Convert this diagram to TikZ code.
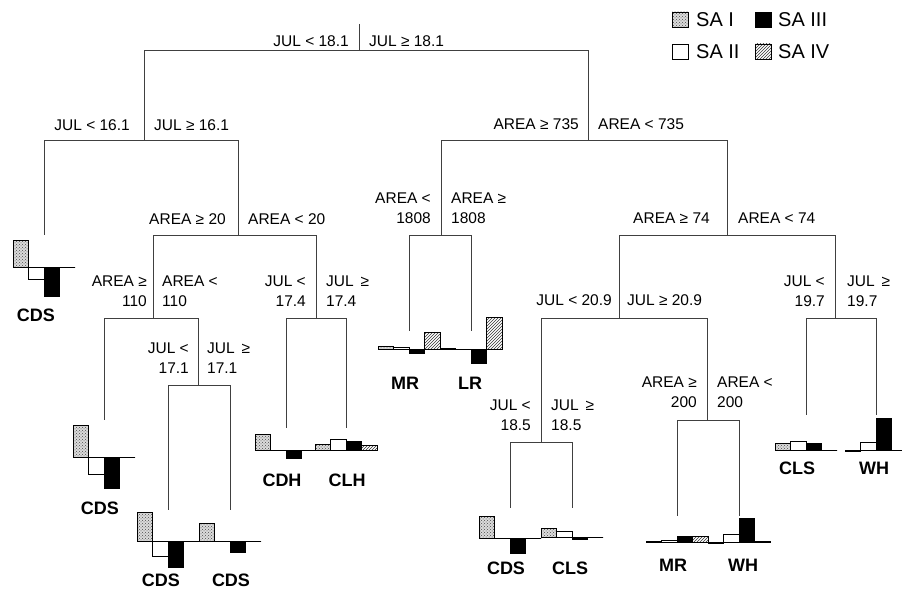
\documentclass[tikz,border=0pt]{standalone}
\usepackage{fontspec}
\setmainfont{Liberation Sans}
\usetikzlibrary{patterns}
% #1 leaf x, #2 baseline y, #3-#6 heights (up positive)
\newcommand\leafchart[6]{%
  \fill[black!14] ({#1-31},#2) rectangle ({#1-15.5},{#2-#3});
  \fill[pattern=crosshatch dots, pattern color=black!70] ({#1-31},#2) rectangle ({#1-15.5},{#2-#3});
  \draw[barline] ({#1-31},#2) rectangle ({#1-15.5},{#2-#3});
  \draw[barline,fill=white] ({#1-15.5},#2) rectangle ({#1},{#2-#4});
  \draw[barline,fill=black] ({#1},#2) rectangle ({#1+15.5},{#2-#5});
  \fill[pattern=north east lines, pattern color=black!80] ({#1+15.5},#2) rectangle ({#1+31},{#2-#6});
  \draw[barline] ({#1+15.5},#2) rectangle ({#1+31},{#2-#6});
  \draw[barline] ({#1-31},#2) -- ({#1+31},#2);
}
\begin{document}
\begin{tikzpicture}[x=1pt,y=-1pt,
  tree/.style={draw=black!75,line width=0.9pt},
  barline/.style={draw=black,line width=0.8pt},
  lbl/.style={font=\fontsize{15.5}{20}\selectfont,inner sep=0pt},
  leaflbl/.style={font=\fontsize{18}{20}\selectfont\bfseries,inner sep=0pt},
  legtxt/.style={font=\fontsize{20}{22}\selectfont,inner sep=0pt,anchor=west}]
\useasboundingbox (0,0) rectangle (902,591);

% junctions
\coordinate (rt) at (359,24);
\coordinate (r) at (359,50);
\coordinate (aJ) at (144,140);
\coordinate (bJ) at (588,140);
\coordinate (a1E) at (44,235);
\coordinate (a2J) at (238,235);
\coordinate (a21J) at (153,318);
\coordinate (a22J) at (316,318);
\coordinate (a211E) at (104,420);
\coordinate (a212J) at (198,385);
\coordinate (a2121E) at (168,510);
\coordinate (a2122E) at (230,510);
\coordinate (a221E) at (286,428);
\coordinate (a222E) at (346,428);
\coordinate (b1J) at (441,235);
\coordinate (b2J) at (727,235);
\coordinate (b11E) at (409,331);
\coordinate (b12E) at (471,331);
\coordinate (b21J) at (619,318);
\coordinate (b22J) at (835,318);
\coordinate (b211J) at (541,442);
\coordinate (b212J) at (707,420);
\coordinate (b2111E) at (510,508);
\coordinate (b2112E) at (572,508);
\coordinate (b2121E) at (677,516);
\coordinate (b2122E) at (739,516);
\coordinate (b221E) at (806,415);
\coordinate (b222E) at (876,415);

\draw[tree] (rt) -- (r);
\draw[tree] (r) -| (aJ);   \draw[tree] (r) -| (bJ);
\draw[tree] (aJ) -| (a1E); \draw[tree] (aJ) -| (a2J);
\draw[tree] (a2J) -| (a21J); \draw[tree] (a2J) -| (a22J);
\draw[tree] (a21J) -| (a211E); \draw[tree] (a21J) -| (a212J);
\draw[tree] (a212J) -| (a2121E); \draw[tree] (a212J) -| (a2122E);
\draw[tree] (a22J) -| (a221E); \draw[tree] (a22J) -| (a222E);
\draw[tree] (bJ) -| (b1J); \draw[tree] (bJ) -| (b2J);
\draw[tree] (b1J) -| (b11E); \draw[tree] (b1J) -| (b12E);
\draw[tree] (b2J) -| (b21J); \draw[tree] (b2J) -| (b22J);
\draw[tree] (b21J) -| (b211J); \draw[tree] (b21J) -| (b212J);
\draw[tree] (b211J) -| (b2111E); \draw[tree] (b211J) -| (b2112E);
\draw[tree] (b212J) -| (b2121E); \draw[tree] (b212J) -| (b2122E);
\draw[tree] (b22J) -| (b221E); \draw[tree] (b22J) -| (b222E);

% split labels
\node[lbl,anchor=east] (l0a) at (349,41) {JUL < 18.1};
\node[lbl,anchor=west] (l0b) at (369,41) {JUL ≥ 18.1};
\node[lbl,anchor=east] (laa) at (130,125) {JUL < 16.1};
\node[lbl,anchor=west] (lab) at (154,125) {JUL ≥ 16.1};
\node[lbl,anchor=east] (la2a) at (226,219) {AREA ≥ 20};
\node[lbl,anchor=west] (la2b) at (248,219) {AREA < 20};
\node[lbl,anchor=east,align=right] (la21a) at (147,291) {AREA ≥\\110};
\node[lbl,anchor=west,align=left] (la21b) at (162,291) {AREA <\\110};
\node[lbl,anchor=east,align=right] (la212a) at (189,358) {JUL <\\17.1};
\node[lbl,anchor=west,align=left] (la212b) at (207,358) {JUL\hspace{0.45em}≥\\17.1};
\node[lbl,anchor=east,align=right] (la22a) at (306,291) {JUL <\\17.4};
\node[lbl,anchor=west,align=left] (la22b) at (326,291) {JUL\hspace{0.45em}≥\\17.4};
\node[lbl,anchor=east] (lba) at (579,124) {AREA ≥ 735};
\node[lbl,anchor=west] (lbb) at (598,124) {AREA < 735};
\node[lbl,anchor=east,align=right] (lb1a) at (431,208) {AREA <\\1808};
\node[lbl,anchor=west,align=left] (lb1b) at (451,208) {AREA ≥\\1808};
\node[lbl,anchor=east] (lb2a) at (710,218) {AREA ≥ 74};
\node[lbl,anchor=west] (lb2b) at (738,218) {AREA < 74};
\node[lbl,anchor=east] (lb21a) at (612,300) {JUL < 20.9};
\node[lbl,anchor=west] (lb21b) at (627,300) {JUL ≥ 20.9};
\node[lbl,anchor=east,align=right] (lb211a) at (531,415) {JUL <\\18.5};
\node[lbl,anchor=west,align=left] (lb211b) at (551,415) {JUL\hspace{0.45em}≥\\18.5};
\node[lbl,anchor=east,align=right] (lb212a) at (697,392) {AREA ≥\\200};
\node[lbl,anchor=west,align=left] (lb212b) at (717,392) {AREA <\\200};
\node[lbl,anchor=east,align=right] (lb22a) at (825,291) {JUL <\\19.7};
\node[lbl,anchor=west,align=left] (lb22b) at (847,291) {JUL\hspace{0.45em}≥\\19.7};

% leaf charts
\leafchart{44}{267}{27}{-12}{-29}{0}
\leafchart{104}{457}{32}{-17}{-31}{0}
\leafchart{168}{541}{29}{-15}{-26}{0}
\leafchart{230}{541}{18}{0}{-11}{0}
\leafchart{286}{450}{16}{0}{-8}{0}
\leafchart{346}{450}{6}{11}{9}{5}
\leafchart{409}{349}{3}{2}{-4}{17}
\leafchart{471}{349}{1}{0}{-14}{32}
\leafchart{510}{538}{22}{0}{-15}{0}
\leafchart{572}{537}{9}{6}{-2}{0}
\leafchart{677}{542}{1}{2}{6}{6}
\leafchart{739}{542}{-1}{8}{24}{1}
\leafchart{806}{450}{7}{9}{7}{0}
\leafchart{876}{450}{-1}{8}{32}{0}

% leaf labels
\node[leaflbl] (t1) at (36,315) {CDS};
\node[leaflbl] (t2) at (100,508) {CDS};
\node[leaflbl] (t3) at (161,580) {CDS};
\node[leaflbl] (t4) at (231,580) {CDS};
\node[leaflbl] (t5) at (282,480) {CDH};
\node[leaflbl] (t6) at (347,480) {CLH};
\node[leaflbl] (t7) at (405,383) {MR};
\node[leaflbl] (t8) at (470,383) {LR};
\node[leaflbl] (t9) at (506,568) {CDS};
\node[leaflbl] (t10) at (570,568) {CLS};
\node[leaflbl] (t11) at (673,565) {MR};
\node[leaflbl] (t12) at (743,565) {WH};
\node[leaflbl] (t13) at (797,468) {CLS};
\node[leaflbl] (t14) at (874,468) {WH};

% legend
\fill[black!14] (672,12) rectangle (688,27);
\fill[pattern=crosshatch dots, pattern color=black!70] (672,12) rectangle (688,27);
\draw[barline] (672,12) rectangle (688,27);
\node[legtxt] (g1) at (696,20) {SA I};
\draw[barline,fill=black] (755,12) rectangle (771,27);
\node[legtxt] (g3) at (778,20) {SA III};
\draw[barline,fill=white] (672,44) rectangle (688,59);
\node[legtxt] (g2) at (696,52) {SA II};
\fill[pattern=north east lines, pattern color=black!80] (755,44) rectangle (771,59);
\draw[barline] (755,44) rectangle (771,59);
\node[legtxt] (g4) at (778,52) {SA IV};
\end{tikzpicture}
\end{document}
